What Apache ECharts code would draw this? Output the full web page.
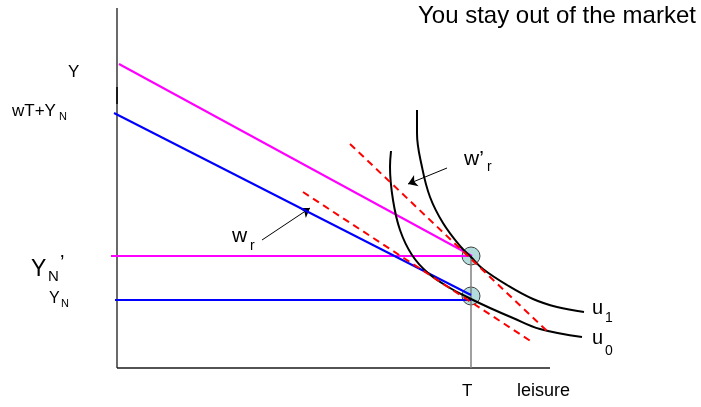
<!DOCTYPE html>
<html>
<head>
<meta charset="utf-8">
<script src="https://cdn.jsdelivr.net/npm/echarts@6/dist/echarts.min.js"></script>
<style>
  html, body { margin: 0; padding: 0; background: #ffffff; }
  #chart { width: 701px; height: 407px; }
</style>
</head>
<body>
<div id="chart"></div>
<script>
// leisure on x, income on y, origin at the corner of the axes
const axisY = [[0, 360], [0, 0]];
const axisX = [[0, 0], [433, 0]];
const axisMark = [[0, 281], [0, 264]];

const budgetNew = [[2, 304], [355, 112]];      // magenta, wage w'
const budgetOld = [[-3, 255], [354, 73]];      // blue, wage w
const nonLaborNew = [[-6, 112], [354, 112]];   // Y_N'
const nonLaborOld = [[-2, 68], [354, 68]];     // Y_N
const endowment = [[354, 112], [354, 0]];      // T
const corners = [[354, 112], [354, 72]];

const u1 = [[300, 258], [300, 235], [305, 201], [313, 171], [326, 145], [343, 122],
  [354, 111], [366, 99], [390, 83], [416, 69], [440, 61], [467, 56]];
const u0 = [[274, 217], [273, 201], [276, 168], [283, 138], [295, 113], [311, 95],
  [333, 80], [354, 69], [373, 60], [396, 50], [423, 39], [465, 31]];

const reservationNew = [[233, 224], [431, 36]];  // w'_r
const reservationOld = [[186, 176], [415, 26]];  // w_r

const arrows = [
  {coords: [[330, 200], [291, 184]]},
  {coords: [[145, 128], [193, 160]]},
];

const FONT = "Arial, 'Liberation Sans', sans-serif";

// text placed by its baseline
const txt = (text, x, base, size) => ({
  type: "text",
  x: x,
  y: base - size * 0.34,
  style: {
    text: text,
    font: size + "px " + FONT,
    fill: "#000000",
    align: "left",
    verticalAlign: "middle",
  },
});

const seg = (name, data, color, width, extra = {}) => Object.assign({
  name,
  type: "line",
  data,
  symbol: "none",
  silent: true,
  z: 3,
  lineStyle: {color, width},
}, extra);

const dashed = {color: "#ff0000", width: 2, type: [7, 5]};

const chart = echarts.init(document.getElementById("chart"));

const option = {
  animation: false,
  grid: {left: 0, right: 0, top: 0, bottom: 0},
  xAxis: {type: "value", min: -117, max: 584, show: false},
  yAxis: {type: "value", min: -39, max: 368, show: false},
  series: [
    {
      name: "corners",
      type: "scatter",
      data: corners,
      symbol: "circle",
      symbolSize: 18,
      silent: true,
      z: 1,
      itemStyle: {color: "#b3dcdd", borderColor: "#404040", borderWidth: 1, opacity: 1},
    },
    seg("axisY", axisY, "#1a1a1a", 1.3),
    seg("axisMark", axisMark, "#1a1a1a", 2),
    seg("axisX", axisX, "#1a1a1a", 1.3),
    seg("endowment", endowment, "#808080", 1.5),
    seg("nonLaborNew", nonLaborNew, "#ff00ff", 2),
    seg("nonLaborOld", nonLaborOld, "#0000ff", 2),
    seg("budgetNew", budgetNew, "#ff00ff", 2),
    seg("budgetOld", budgetOld, "#0000ff", 2),
    seg("u1", u1, "#000000", 2, {smooth: 0.4}),
    seg("u0", u0, "#000000", 2, {smooth: 0.4}),
    seg("reservationNew", reservationNew, "#ff0000", 2, {lineStyle: dashed}),
    seg("reservationOld", reservationOld, "#ff0000", 2, {lineStyle: dashed}),
    {
      name: "arrows",
      type: "lines",
      coordinateSystem: "cartesian2d",
      data: arrows,
      symbol: ["none", "arrow"],
      symbolSize: 9,
      silent: true,
      z: 3,
      lineStyle: {color: "#000000", width: 1, opacity: 1},
    },
  ],
  graphic: [
    txt("You stay out of the market", 418, 25, 24),
    txt("Y", 68, 78, 17),
    txt("wT+Y", 12, 117, 17),
    txt("N", 59, 121, 11),
    txt("Y", 31, 277, 23),
    txt("N", 48, 282, 15),
    txt("\u2019", 60, 270, 20),
    txt("Y", 49, 304, 16),
    txt("N", 61, 308, 11),
    txt("w", 232, 243, 21),
    txt("r", 250, 251, 14),
    txt("w\u2019", 464, 166, 21),
    txt("r", 487, 172, 14),
    txt("u", 592, 315, 20),
    txt("1", 605, 323, 14),
    txt("u", 592, 345, 20),
    txt("0", 605, 356, 14),
    txt("T", 462, 397, 17),
    txt("leisure", 517, 397, 18),
  ],
};

chart.setOption(option);
</script>
</body>
</html>
